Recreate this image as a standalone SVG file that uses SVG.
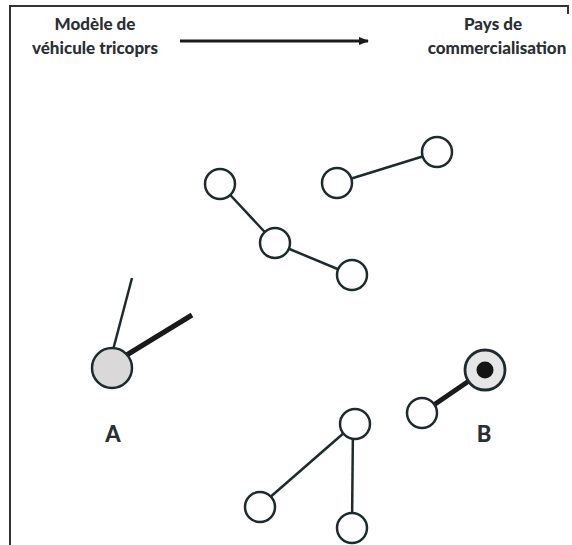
<svg xmlns="http://www.w3.org/2000/svg" width="572" height="545" viewBox="0 0 572 545">
<defs>
<style>
.lbl{font-family:Lato,"Open Sans",sans-serif;font-weight:900;font-size:17px;fill:#2a2f33;text-anchor:middle}
.big{font-family:Lato,"Open Sans",sans-serif;font-weight:900;font-size:22px;fill:#2a2f33;text-anchor:middle}
.node{fill:#fff;stroke:#1f2a2e;stroke-width:2.5}
.edge{stroke:#1f2a2e;stroke-width:2.5;fill:none}
.thick{stroke:#1a1a1a;stroke-width:5;fill:none}
.frame{stroke:#333;stroke-width:2;fill:none}
</style>
<marker id="ah" markerWidth="10" markerHeight="10" refX="9" refY="5" orient="auto" markerUnits="userSpaceOnUse">
<path d="M0,1 L10,5 L0,9 z" fill="#1a1a1a"/>
</marker>
</defs>
<rect width="572" height="545" fill="#fff"/>
<g id="frame">
<path class="frame" d="M10,545 L10,6 L568,6 L568,14"/>
</g>
<g id="header">
<text class="lbl" x="95" y="30">Modèle de</text>
<text class="lbl" x="95" y="54">véhicule tricoprs</text>
<text class="lbl" x="493" y="30">Pays de</text>
<text class="lbl" x="497" y="54">commercialisation</text>
</g>
<g id="connectors">
<line x1="180" y1="41" x2="368" y2="41" stroke="#1a1a1a" stroke-width="3" marker-end="url(#ah)"/>
<line class="edge" x1="220" y1="184" x2="275" y2="243"/>
<line class="edge" x1="275" y1="243" x2="352" y2="275"/>
<line class="edge" x1="337" y1="183" x2="437" y2="152"/>
<line class="edge" x1="113" y1="350" x2="132" y2="278"/>
<line class="thick" x1="125" y1="356" x2="192" y2="315"/>
<line class="thick" x1="422" y1="413" x2="485" y2="370"/>
<line class="edge" x1="353" y1="425" x2="260" y2="506"/>
<line class="edge" x1="353" y1="425" x2="352" y2="527"/>
</g>
<g id="n1"><circle class="node" cx="220" cy="184" r="15"/></g>
<g id="n2"><circle class="node" cx="275" cy="243" r="15"/></g>
<g id="n3"><circle class="node" cx="352" cy="275" r="15"/></g>
<g id="n4"><circle class="node" cx="337" cy="183" r="15"/></g>
<g id="n5"><circle class="node" cx="437" cy="152" r="15"/></g>
<g id="nA">
<circle cx="112" cy="368" r="20" fill="#d9d9d9" stroke="#1f2a2e" stroke-width="2.5"/>
<text class="big" x="113" y="442">A</text>
</g>
<g id="nB">
<circle cx="485" cy="370" r="20" fill="#e6e6e6" stroke="#1f2a2e" stroke-width="2.8"/>
<circle cx="485" cy="370" r="8.5" fill="#151515"/>
<text class="big" x="484" y="442">B</text>
</g>
<g id="n6"><circle class="node" cx="422" cy="413" r="15"/></g>
<g id="n7"><circle class="node" cx="355" cy="424" r="15"/></g>
<g id="n8"><circle class="node" cx="260" cy="507" r="15"/></g>
<g id="n9"><circle class="node" cx="352" cy="528" r="15"/></g>
</svg>
